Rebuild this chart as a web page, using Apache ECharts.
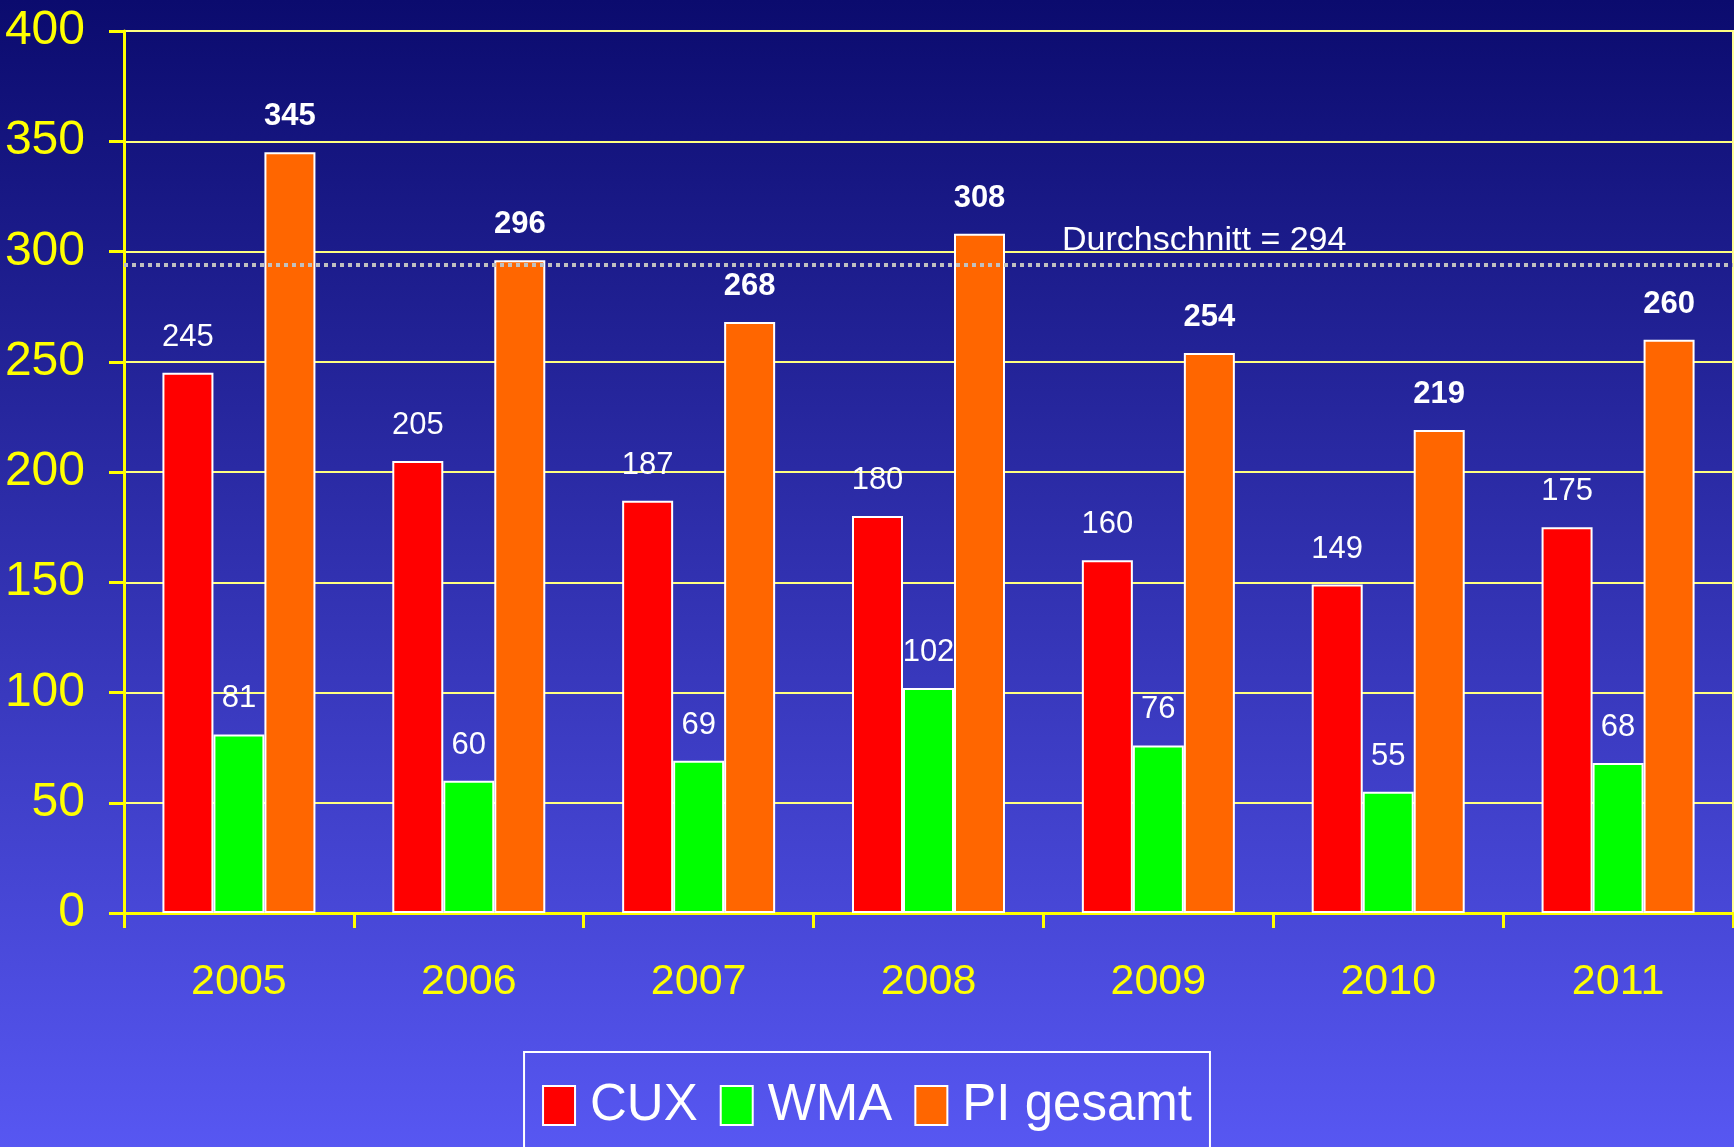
<!DOCTYPE html>
<html lang="de">
<head>
  <meta charset="utf-8" />
  <title>CUX / WMA / PI gesamt</title>
  <style>
    html, body { margin: 0; padding: 0; }
    #main {
      width: 1734px;
      height: 1147px;
      background: linear-gradient(to bottom, #0b0b6e 0%, #3131b0 50%, #5757f2 100%);
    }
  </style>
</head>
<body>
  <div id="main"></div>
  <script src="https://cdn.jsdelivr.net/npm/echarts@6/dist/echarts.min.js"></script>
  <script>
    const years = ["2005", "2006", "2007", "2008", "2009", "2010", "2011"];
    const cux = [245, 205, 187, 180, 160, 149, 175];
    const wma = [81, 60, 69, 102, 76, 55, 68];
    const piGesamt = [345, 296, 268, 308, 254, 219, 260];
    const average = 294;
    const yTicks = [0, 50, 100, 150, 200, 250, 300, 350, 400];

    const font = "'Liberation Sans', Arial, sans-serif";

    const chart = echarts.init(document.getElementById("main"));

    const valueLabel = (bold) => ({
      show: true,
      position: "top",
      distance: 20,
      color: "#ffffff",
      fontFamily: font,
      fontSize: 31,
      fontWeight: bold ? "bold" : "normal",
    });

    const option = {
      animation: false,
      grid: {
        left: 124,
        right: 1,
        top: 31,
        bottom: 234,
        outerBoundsMode: "none",
        containLabel: false,
        show: true,
        borderColor: "#ffff99",
        borderWidth: 2,
        backgroundColor: "transparent",
      },
      legend: {
        top: 1052,
        left: "center",
        padding: [28, 18, 30, 18],
        borderColor: "#ffffff",
        borderWidth: 2,
        itemGap: 22,
        itemWidth: 32,
        itemHeight: 39,
        icon: "rect",
        textStyle: {
          color: "#ffffff",
          fontFamily: font,
          fontSize: 51,
          padding: [0, 0, 0, 10],
        },
        data: ["CUX", "WMA", "PI gesamt"],
      },
      xAxis: {
        type: "category",
        data: years,
        axisLine: { lineStyle: { color: "#ffff00", width: 3 } },
        axisTick: { show: true, length: 15, lineStyle: { color: "#ffff00", width: 3 } },
        axisLabel: {
          color: "#ffff00",
          fontFamily: font,
          fontSize: 43,
          margin: 48,
        },
        splitLine: { show: false },
      },
      yAxis: {
        type: "value",
        min: yTicks[0],
        max: yTicks[yTicks.length - 1],
        interval: 50,
        axisLine: { show: true, lineStyle: { color: "#ffff00", width: 3 } },
        axisTick: { show: true, length: 15, lineStyle: { color: "#ffff00", width: 3 } },
        axisLabel: {
          color: "#ffff00",
          fontFamily: font,
          fontSize: 48,
          margin: 39,
        },
        splitLine: { show: true, lineStyle: { color: "#ffff80", width: 2 } },
      },
      series: [
        {
          name: "CUX",
          type: "bar",
          data: cux,
          barWidth: 51,
          barGap: "0%",
          itemStyle: { color: "#ff0000", borderColor: "#ffffff", borderWidth: 2 },
          label: valueLabel(false),
        },
        {
          name: "WMA",
          type: "bar",
          data: wma,
          barWidth: 51,
          barGap: "0%",
          itemStyle: { color: "#00ff00", borderColor: "#ffffff", borderWidth: 2 },
          label: valueLabel(false),
        },
        {
          name: "PI gesamt",
          type: "bar",
          data: piGesamt,
          barWidth: 51,
          barGap: "0%",
          itemStyle: { color: "#ff6600", borderColor: "#ffffff", borderWidth: 2 },
          label: valueLabel(true),
          markLine: {
            silent: true,
            symbol: "none",
            label: { show: false },
            lineStyle: { color: "#c0c0c0", width: 4, type: [4, 4], opacity: 1 },
            data: [{ yAxis: average }],
          },
        },
      ],
    };
    chart.setOption(option);

    // annotation text for the average line
    const avgY = chart.convertToPixel({ yAxisIndex: 0 }, average);
    chart.setOption({
      graphic: [
        {
          type: "text",
          left: 1062,
          top: avgY - 41,
          style: {
            text: "Durchschnitt = " + average,
            fill: "#ffffff",
            font: "34px " + font,
          },
        },
      ],
    });
  </script>
</body>
</html>
